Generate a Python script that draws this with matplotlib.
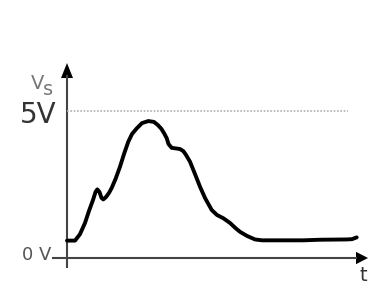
import numpy as np
import matplotlib.pyplot as plt

# sensor voltage trace (t in arbitrary units, volts)
t = [0.0, 0.8, 1.3, 1.8, 2.2, 2.6, 2.85, 3.03, 3.25, 3.45, 3.63, 3.9, 4.2,
     4.47, 4.85, 5.3, 5.7, 6.13, 6.5, 6.97, 7.5, 8.13, 8.7, 9.1, 9.45, 9.7,
     9.97, 10.15, 10.47, 10.9, 11.3, 11.63, 11.9, 12.3, 12.8, 13.3, 13.8,
     14.47, 15.0, 15.63, 16.3, 16.9, 17.3, 18.0, 18.8, 19.5, 23.6, 25.3,
     28.0, 28.5, 28.97]
vs = [0.59, 0.59, 0.81, 1.19, 1.60, 1.97, 2.24, 2.33, 2.24, 2.04, 1.99, 2.07,
      2.21, 2.38, 2.68, 3.10, 3.53, 3.95, 4.21, 4.40, 4.58, 4.65, 4.62, 4.51,
      4.38, 4.24, 4.07, 3.87, 3.74, 3.72, 3.70, 3.63, 3.50, 3.27, 2.85, 2.42,
      2.04, 1.63, 1.46, 1.35, 1.19, 1.00, 0.89, 0.75, 0.63, 0.60, 0.60, 0.62,
      0.63, 0.64, 0.70]

v_high = 5.0
t_end = 28.1

fig = plt.figure(figsize=(3.83, 3.01), dpi=100)
ax = fig.add_axes([0, 0, 1, 1])
ax.set_xlim(-6.7, 31.6)
ax.set_ylim(-1.46, 8.76)
ax.axis("off")

axis_col = "#444444"

# axes with arrow heads
ax.plot([0, 0], [-0.34, 6.2], color=axis_col, lw=1.5, solid_capstyle="butt")
ax.plot([-1.5, 29.0], [0, 0], color=axis_col, lw=1.5, solid_capstyle="butt")
ax.fill([-0.6, 0.6, 0], [6.11, 6.11, 6.62], color="black", lw=0)
ax.fill([28.9, 28.9, 30.1], [-0.21, 0.21, 0], color="black", lw=0)

# 5 V reference level
ax.plot([0, t_end], [v_high, v_high], color="#b0b0b0", lw=1.2,
        linestyle=(0, (1, 1)))

# the signal
ax.plot(t, vs, color="black", lw=2.8, solid_joinstyle="round",
        solid_capstyle="round")

# labels
ax.text(-1.0, 4.85, "5V", fontsize=20, color="#333333", ha="right", va="center")
ax.text(-1.6, 0.1, "0 V", fontsize=13, color="#555555", ha="right", va="center")
ax.text(-2.3, 5.93, "V", fontsize=14, color="#777777", ha="right", va="center")
ax.text(-2.4, 5.72, "s", fontsize=14, color="#777777", ha="left", va="center")
ax.text(29.6, -0.58, "t", fontsize=14, color="#333333", ha="center", va="center")

fig.savefig("out.png", dpi=100)
